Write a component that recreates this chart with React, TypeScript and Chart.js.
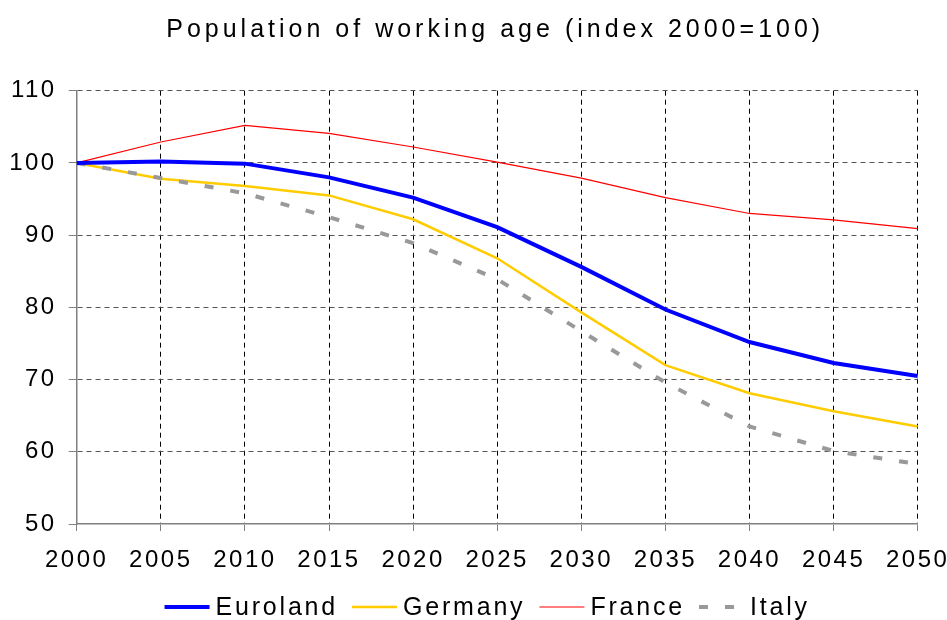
import React, { useEffect, useRef } from "react";
import { Chart, registerables } from "chart.js";

Chart.register(...registerables);

// ---- data ----
const TITLE = "Population of working age (index 2000=100)";
const years = ["2000", "2005", "2010", "2015", "2020", "2025", "2030", "2035", "2040", "2045", "2050"];
const euroland = [100, 100.2, 99.9, 98.0, 95.2, 91.1, 85.6, 79.7, 75.2, 72.3, 70.5];
const germany = [100, 97.8, 96.8, 95.5, 92.2, 86.8, 79.3, 72.0, 68.1, 65.6, 63.5];
const france = [100, 102.9, 105.2, 104.1, 102.2, 100.1, 97.9, 95.2, 93.0, 92.1, 90.9];
const italy = [100, 97.9, 95.8, 92.5, 88.9, 83.9, 76.7, 69.6, 63.5, 60.1, 58.3];
const Y_MIN = 50;
const Y_MAX = 110;
const Y_STEP = 10;

const FAMILY = '"Liberation Sans", Arial, Helvetica, sans-serif';

const decorPlugin = {
  id: "decor",
  beforeDraw(chart: any) {
    chart.ctx.letterSpacing = "2.5px";
  },
  afterDraw(chart: any) {
    const ctx = chart.ctx;
    const area = chart.chartArea;
    const cx = (area.left + area.right) / 2;
    ctx.save();
    ctx.fillStyle = "#000";
    // title
    ctx.font = `25px ${FAMILY}`;
    ctx.letterSpacing = "4px";
    ctx.textAlign = "center";
    ctx.textBaseline = "middle";
    ctx.fillText(TITLE, cx - 4 + 2, 30);
    // legend
    ctx.font = `25px ${FAMILY}`;
    ctx.letterSpacing = "2.8px";
    ctx.textAlign = "left";
    const sample = 45;
    const gapText = 6;
    const gapItem = 14;
    const items = chart.data.datasets.map((ds: any) => ({ ds, w: ctx.measureText(ds.label).width }));
    const total =
      items.reduce((s: number, it: any) => s + sample + gapText + it.w, 0) + gapItem * (items.length - 1);
    let x = cx - 10 - total / 2;
    const y = 607;
    items.forEach(({ ds, w }: any) => {
      ctx.save();
      ctx.strokeStyle = ds.borderColor;
      ctx.lineWidth = ds.borderWidth;
      ctx.setLineDash(ds.borderDash || []);
      ctx.beginPath();
      ctx.moveTo(x, y);
      ctx.lineTo(x + sample, y);
      ctx.stroke();
      ctx.restore();
      ctx.fillText(ds.label, x + sample + gapText, y + 1);
      x += sample + gapText + w + gapItem;
    });
    ctx.restore();
    ctx.letterSpacing = "0px";
  },
};

export default function App() {
  const canvasRef = useRef<HTMLCanvasElement | null>(null);

  useEffect(() => {
    document.body.style.margin = "0";
    const canvas = canvasRef.current;
    if (!canvas) return;
    const chart = new Chart(canvas, {
      type: "line",
      data: {
        labels: years,
        datasets: [
          {
            label: "Euroland",
            data: euroland,
            borderColor: "#0000FF",
            borderWidth: 4,
            pointRadius: 0,
            tension: 0,
            order: 0,
          },
          {
            label: "Germany",
            data: germany,
            borderColor: "#FFCC00",
            borderWidth: 2.5,
            pointRadius: 0,
            tension: 0,
            order: 2,
          },
          {
            label: "France",
            data: france,
            borderColor: "#FF0000",
            borderWidth: 1.2,
            pointRadius: 0,
            tension: 0,
            order: 3,
          },
          {
            label: "Italy",
            data: italy,
            borderColor: "#999999",
            borderWidth: 4,
            borderDash: [9, 17],
            pointRadius: 0,
            tension: 0,
            order: 1,
          },
        ],
      },
      options: {
        responsive: false,
        animation: false,
        devicePixelRatio: 1,
        layout: { padding: { left: 0, right: 29.3, top: 90.7, bottom: 36 } },
        plugins: {
          legend: { display: false },
          title: { display: false },
          tooltip: { enabled: false },
        },
        scales: {
          x: {
            type: "category",
            offset: false,
            grid: {
              color: (c: any) => (c.index === 0 ? "rgba(0,0,0,0)" : "#000"),
              lineWidth: 1,
              tickLength: 7,
              tickColor: "#808080",
            },
            border: { display: true, color: "#808080", width: 1.5, dash: [5, 4] },
            ticks: {
              color: "#000",
              font: { family: FAMILY, size: 24 },
              padding: 15,
              maxRotation: 0,
              autoSkip: false,
            },
            afterFit: (s: any) => {
              s.height = 60;
              s.paddingLeft = 0;
              s.paddingRight = 0;
            },
          },
          y: {
            type: "linear",
            min: Y_MIN,
            max: Y_MAX,
            grid: {
              color: (c: any) => (c.tick && c.tick.value === Y_MIN ? "rgba(0,0,0,0)" : "#555"),
              lineWidth: 1,
              tickLength: 8,
              tickColor: "#808080",
            },
            border: { display: true, color: "#808080", width: 1.5, dash: [5, 4] },
            ticks: {
              stepSize: Y_STEP,
              color: "#000",
              font: { family: FAMILY, size: 24 },
              padding: 12,
            },
            afterFit: (s: any) => {
              s.width = 76.7;
            },
          },
        },
      },
      plugins: [decorPlugin],
    } as any);
    return () => {
      chart.destroy();
    };
  }, []);

  return (
    <div style={{ width: 947, height: 620 }}>
      <canvas ref={canvasRef} width={947} height={620} />
    </div>
  );
}
